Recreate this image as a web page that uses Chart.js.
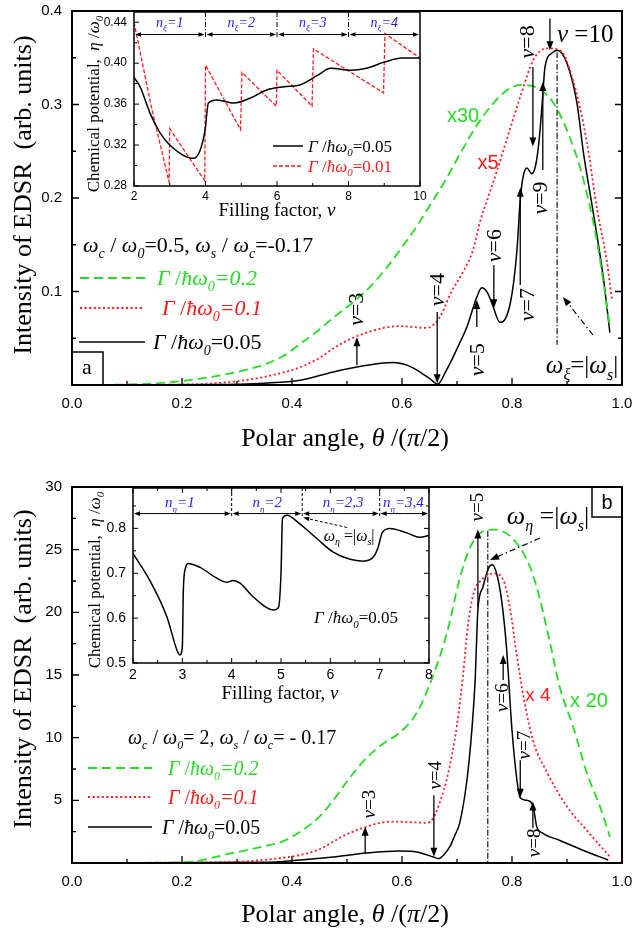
<!DOCTYPE html>
<html>
<head>
<meta charset="utf-8">
<script src="https://cdn.jsdelivr.net/npm/chart.js@4.4.1/dist/chart.umd.min.js"></script>
<style>
  body { margin: 0; background: #fff; width: 636px; height: 929px; position: relative; overflow: hidden; }
  canvas { position: absolute; }
</style>
</head>
<body>
<canvas id="mainA" width="636" height="465" style="left:0;top:0"></canvas>
<canvas id="insetA" width="360" height="225" style="left:80px;top:0"></canvas>
<canvas id="mainB" width="636" height="464" style="left:0;top:465px"></canvas>
<canvas id="insetB" width="370" height="240" style="left:80px;top:465px"></canvas>
<script>
// ---- data ----
// panel a, intensity vs polar angle
const aGreenX = [0, 0.1, 0.196, 0.293, 0.35, 0.384, 0.415, 0.447, 0.475, 0.51, 0.542, 0.57, 0.596, 0.627, 0.657, 0.682, 0.71, 0.742, 0.784, 0.815, 0.845, 0.875, 0.905, 0.924, 0.936, 0.955, 0.978];
const aGreenY = [0, 0.0005, 0.004, 0.013, 0.022, 0.031, 0.044, 0.058, 0.072, 0.088, 0.105, 0.124, 0.144, 0.17, 0.198, 0.222, 0.252, 0.283, 0.312, 0.321, 0.318, 0.302, 0.265, 0.232, 0.205, 0.152, 0.062];
const aRedX = [0, 0.2, 0.3, 0.36, 0.415, 0.45, 0.475, 0.505, 0.536, 0.566, 0.596, 0.62, 0.645, 0.669, 0.69, 0.71, 0.729, 0.742, 0.755, 0.772, 0.796, 0.815, 0.839, 0.863, 0.887, 0.911, 0.936, 0.955, 0.973, 0.982];
const aRedY = [0, 0.0005, 0.004, 0.01, 0.019, 0.029, 0.039, 0.049, 0.056, 0.061, 0.063, 0.062, 0.061, 0.073, 0.1, 0.12, 0.144, 0.175, 0.198, 0.228, 0.273, 0.308, 0.348, 0.36, 0.358, 0.326, 0.26, 0.187, 0.13, 0.09];
const aBlackX = [0, 0.25, 0.35, 0.415, 0.475, 0.536, 0.584, 0.61, 0.627, 0.65, 0.665, 0.68, 0.693, 0.705, 0.718, 0.736, 0.745, 0.755, 0.765, 0.778, 0.787, 0.796, 0.803, 0.809, 0.815, 0.82, 0.827, 0.836, 0.843, 0.849, 0.855, 0.86, 0.873, 0.882, 0.9, 0.918, 0.93, 0.947, 0.966, 0.978];
const aBlackY = [0, 0.0005, 0.002, 0.005, 0.014, 0.021, 0.024, 0.021, 0.016, 0.007, 0.001, 0.015, 0.03, 0.045, 0.062, 0.094, 0.104, 0.099, 0.085, 0.067, 0.07, 0.085, 0.11, 0.144, 0.198, 0.222, 0.232, 0.226, 0.235, 0.26, 0.302, 0.34, 0.355, 0.358, 0.344, 0.302, 0.248, 0.187, 0.115, 0.056];
const aTickX = [0, 0.2, 0.4, 0.6, 0.8, 1.0];
const aTickY = [0.1, 0.2, 0.3, 0.4];

// panel a inset, chemical potential vs filling factor
const iaBlackX = [2, 2.17, 2.45, 2.73, 3.0, 3.38, 3.66, 3.85, 3.99, 4.08, 4.33, 4.79, 5.26, 5.73, 6.2, 6.66, 7.13, 7.5, 8.07, 8.5, 9.0, 9.5, 10];
const iaBlackY = [0.386, 0.377, 0.351, 0.332, 0.32, 0.31, 0.307, 0.315, 0.335, 0.361, 0.364, 0.361, 0.366, 0.374, 0.377, 0.379, 0.388, 0.395, 0.393, 0.395, 0.401, 0.405, 0.405];
const iaRedX = [2, 2.5, 2.98, 3.0, 3.98, 4.0, 4.98, 5.02, 5.98, 6.0, 6.98, 7.02, 8.98, 9.02, 10];
const iaRedY = [0.44, 0.355, 0.284, 0.336, 0.285, 0.398, 0.335, 0.391, 0.358, 0.393, 0.358, 0.414, 0.371, 0.429, 0.405];
const iaTickX = [2, 4, 6, 8, 10];
const iaTickY = [0.28, 0.32, 0.36, 0.40, 0.44];
const iaLevels = ['1', '2', '3', '4'];
const iaBounds = [2, 4, 6, 8, 10];

// panel b, intensity vs polar angle
const bGreenX = [0, 0.2, 0.293, 0.34, 0.384, 0.415, 0.45, 0.475, 0.505, 0.536, 0.565, 0.596, 0.627, 0.657, 0.682, 0.705, 0.724, 0.745, 0.766, 0.796, 0.827, 0.845, 0.869, 0.887, 0.911, 0.936, 0.96, 0.978];
const bGreenY = [0, 0.05, 0.8, 1.25, 1.75, 2.5, 3.7, 5.0, 6.8, 8.4, 9.5, 10.4, 12, 15, 18.4, 22.7, 25.2, 26.4, 26.6, 26.1, 24.2, 22, 17.6, 14, 10.9, 7.2, 4.5, 2.1];
const bRedX = [0, 0.3, 0.38, 0.415, 0.45, 0.475, 0.505, 0.536, 0.56, 0.584, 0.62, 0.645, 0.657, 0.67, 0.682, 0.7, 0.711, 0.72, 0.73, 0.745, 0.766, 0.784, 0.796, 0.809, 0.822, 0.838, 0.864, 0.9, 0.936, 0.978];
const bRedY = [0, 0.1, 0.4, 0.64, 1.1, 1.7, 2.4, 2.9, 3.2, 3.3, 3.25, 3.2, 3.6, 5, 6.8, 11, 15, 19, 21.5, 22.6, 23.1, 22.6, 20.4, 16.5, 13, 9.8, 7.2, 4.5, 2.6, 0.5];
const bBlackX = [0, 0.35, 0.415, 0.475, 0.536, 0.596, 0.627, 0.657, 0.666, 0.677, 0.687, 0.696, 0.705, 0.718, 0.727, 0.733, 0.738, 0.747, 0.757, 0.764, 0.772, 0.781, 0.79, 0.8, 0.809, 0.815, 0.827, 0.838, 0.845, 0.855, 0.887, 0.93, 0.975];
const bBlackY = [0, 0.05, 0.24, 0.48, 0.8, 0.96, 0.88, 0.48, 0.35, 0.7, 1.3, 2.2, 3.2, 6.6, 10.6, 14.6, 20.2, 22, 23.5, 23.8, 23.1, 21, 17.2, 10.6, 6.6, 5.2, 5, 4.6, 2.9, 2.4, 1.8, 1, 0.24];
const bTickX = [0, 0.2, 0.4, 0.6, 0.8, 1.0];
const bTickY = [5, 10, 15, 20, 25, 30];

// panel b inset
const ibBlackX = [2, 2.34, 2.69, 2.89, 2.95, 3.0, 3.02, 3.06, 3.12, 3.36, 3.7, 3.9, 4.03, 4.17, 4.44, 4.85, 4.95, 5.0, 5.03, 5.12, 5.38, 5.72, 6.06, 6.4, 6.67, 6.87, 6.97, 7.05, 7.21, 7.55, 7.82, 8];
const ibBlackY = [0.744, 0.684, 0.602, 0.529, 0.518, 0.536, 0.66, 0.71, 0.722, 0.713, 0.689, 0.68, 0.684, 0.678, 0.647, 0.618, 0.624, 0.7, 0.822, 0.829, 0.81, 0.778, 0.747, 0.731, 0.727, 0.736, 0.758, 0.79, 0.8, 0.79, 0.78, 0.784];
const ibTickX = [2, 3, 4, 5, 6, 7, 8];
const ibTickY = [0.5, 0.6, 0.7, 0.8];
const ibLevels = ['1', '2', '2,3', '3,4'];
const ibBounds = [2, 4, 5.43, 7, 8];

// ---- styling ----
const SERIF = '"Liberation Serif", "Times New Roman", serif';
const SANS = '"Liberation Sans", Arial, sans-serif';
const NARROW = '"Liberation Sans Narrow", "Liberation Sans", sans-serif';
const GREEN = '#25dc25';
const RED = '#ff1a1a';
const BLUE = '#1f1fe6';

const pts = (xs, ys) => xs.map((v, i) => ({ x: v, y: ys[i] }));
const mids = arr => arr.slice(1).map((v, i) => (v + arr[i]) / 2);

function ds(data, color, dash, width, smooth) {
  return {
    data, borderColor: color, borderWidth: width, borderDash: dash,
    pointRadius: 0, fill: false,
    tension: 0, cubicInterpolationMode: smooth ? 'monotone' : 'default'
  };
}

function scaleOpts(min, max, ticks, fmt, font, pad, fit) {
  return {
    type: 'linear', min, max,
    grid: { display: false, drawTicks: false },
    border: { display: false },
    afterBuildTicks: s => { s.ticks = ticks.map(v => ({ value: v })); },
    afterFit: s => { fit(s); s.paddingLeft = s.paddingRight = s.paddingTop = s.paddingBottom = 0; },
    ticks: { callback: fmt, font, color: '#000', padding: pad, autoSkip: false, maxRotation: 0 }
  };
}

// rich text: parts = [[text, flags]] with 'i' italic, 's' subscript
function rich(ctx, x, y, parts, size, family, color, align) {
  const font = f => (f.includes('i') ? 'italic ' : '') + Math.round(f.includes('s') ? size * 0.62 : size) + 'px ' + family;
  let w = 0;
  const widths = parts.map(([t, f = '']) => { ctx.font = font(f); const m = ctx.measureText(t).width; w += m; return m; });
  let cx = align === 'center' ? x - w / 2 : align === 'right' ? x - w : x;
  ctx.fillStyle = color;
  ctx.textAlign = 'left';
  ctx.textBaseline = 'alphabetic';
  const base = y + size * 0.33;
  parts.forEach(([t, f = ''], i) => {
    ctx.font = font(f);
    ctx.fillText(t, cx, base + (f.includes('s') ? size * 0.28 : 0));
    cx += widths[i];
  });
}

function richUp(ctx, x, y, parts, size, family, color) {
  ctx.save();
  ctx.translate(x, y);
  ctx.rotate(-Math.PI / 2);
  rich(ctx, 0, 0, parts, size, family, color, 'center');
  ctx.restore();
}

function arrow(ctx, x1, y1, x2, y2, o = {}) {
  const head = o.head || 9, hw = o.hw || 3.5;
  const ang = Math.atan2(y2 - y1, x2 - x1);
  ctx.save();
  ctx.strokeStyle = o.color || '#000';
  ctx.fillStyle = o.color || '#000';
  ctx.lineWidth = o.width || 1.3;
  ctx.setLineDash(o.dash || []);
  ctx.beginPath();
  ctx.moveTo(x1, y1);
  ctx.lineTo(x2 - Math.cos(ang) * head * 0.8, y2 - Math.sin(ang) * head * 0.8);
  ctx.stroke();
  ctx.setLineDash([]);
  ctx.beginPath();
  ctx.moveTo(x2, y2);
  ctx.lineTo(x2 - Math.cos(ang) * head - Math.sin(ang) * hw, y2 - Math.sin(ang) * head + Math.cos(ang) * hw);
  ctx.lineTo(x2 - Math.cos(ang) * head + Math.sin(ang) * hw, y2 - Math.sin(ang) * head - Math.cos(ang) * hw);
  ctx.closePath();
  ctx.fill();
  ctx.restore();
}

function line(ctx, x1, y1, x2, y2, color, width, dash) {
  ctx.save();
  ctx.strokeStyle = color;
  ctx.lineWidth = width;
  ctx.setLineDash(dash || []);
  ctx.beginPath();
  ctx.moveTo(x1, y1);
  ctx.lineTo(x2, y2);
  ctx.stroke();
  ctx.restore();
}

// frame plus inward tick marks
function frame(chart, o) {
  const ctx = chart.ctx, a = chart.chartArea, sx = chart.scales.x, sy = chart.scales.y;
  ctx.save();
  ctx.strokeStyle = '#000';
  ctx.lineWidth = o.lw;
  ctx.strokeRect(a.left, a.top, a.right - a.left, a.bottom - a.top);
  ctx.lineWidth = o.tw;
  ctx.beginPath();
  const xt = (v, len) => {
    const p = sx.getPixelForValue(v);
    ctx.moveTo(p, a.bottom); ctx.lineTo(p, a.bottom - len);
    if (o.top) { ctx.moveTo(p, a.top); ctx.lineTo(p, a.top + len); }
  };
  const yt = (v, len) => {
    const p = sy.getPixelForValue(v);
    ctx.moveTo(a.left, p); ctx.lineTo(a.left + len, p);
    if (o.right) { ctx.moveTo(a.right, p); ctx.lineTo(a.right - len, p); }
  };
  o.xMajor.forEach(v => xt(v, o.len));
  o.xMinor.forEach(v => xt(v, o.len2));
  o.yMajor.forEach(v => yt(v, o.len));
  o.yMinor.forEach(v => yt(v, o.len2));
  ctx.stroke();
  ctx.restore();
}

const gamma = (val, italicNum) => [['Γ', 'i'], [' /', ''], ['ħω', 'i'], ['0', 'is'], ['=' + val, italicNum ? 'i' : '']];
const nu = v => [['ν', 'i'], ['=' + v, '']];

function nuLabel(chart, v, tx, ty, ax, ay1, ay2, size) {
  const sx = chart.scales.x, sy = chart.scales.y, ctx = chart.ctx;
  richUp(ctx, sx.getPixelForValue(tx), sy.getPixelForValue(ty), nu(v), size, SERIF, '#000');
  arrow(ctx, sx.getPixelForValue(ax), sy.getPixelForValue(ay1), sx.getPixelForValue(ax), sy.getPixelForValue(ay2));
}

// ---- panel a decorations ----
function decoMainA(chart) {
  const ctx = chart.ctx, sx = chart.scales.x, sy = chart.scales.y;
  const X = v => sx.getPixelForValue(v), Y = v => sy.getPixelForValue(v);
  frame(chart, { lw: 2, tw: 1.3, len: 7, len2: 4, right: true,
    xMajor: aTickX, xMinor: mids(aTickX), yMajor: aTickY, yMinor: [0.05, 0.15, 0.25, 0.35] });
  richUp(ctx, 22, 195, [['Intensity of EDSR  (arb. units)']], 26, SERIF, '#000');
  rich(ctx, 345, 437, [['Polar angle, '], ['θ', 'i'], [' /('], ['π', 'i'], ['/2)']], 26, SERIF, '#000', 'center');

  rich(ctx, 83, 245, [['ω', 'i'], ['c', 'is'], [' / '], ['ω', 'i'], ['0', 'is'], ['=0.5, '], ['ω', 'i'], ['s', 'is'], [' / '], ['ω', 'i'], ['c', 'is'], ['=-0.17']], 22, SERIF, '#000', 'left');
  line(ctx, 80, 278, 148, 278, GREEN, 1.8, [9, 5]);
  rich(ctx, 157, 278, gamma('0.2', true), 22, SERIF, GREEN, 'left');
  line(ctx, 80, 308, 143, 308, RED, 1.8, [2, 2.6]);
  rich(ctx, 162, 308, gamma('0.1', true), 22, SERIF, RED, 'left');
  line(ctx, 79, 342, 145, 342, '#000', 1.5);
  rich(ctx, 153, 342, gamma('0.05', false), 22, SERIF, '#000', 'left');

  ctx.save();
  ctx.lineWidth = 1.5; ctx.strokeStyle = '#000';
  ctx.strokeRect(72, 352, 31, 33);
  ctx.restore();
  rich(ctx, 87, 367, [['a']], 22, SERIF, '#000', 'center');

  nuLabel(chart, '3', 0.515, 0.081, 0.518, 0.021, 0.051, 22);
  nuLabel(chart, '4', 0.664, 0.102, 0.664, 0.078, 0.002, 22);
  nuLabel(chart, '5', 0.736, 0.027, 0.736, 0.062, 0.091, 22);
  nuLabel(chart, '6', 0.767, 0.149, 0.767, 0.128, 0.082, 22);
  nuLabel(chart, '7', 0.827, 0.086, 0.815, 0.107, 0.211, 22);
  nuLabel(chart, '9', 0.851, 0.2, 0.856, 0.23, 0.324, 22);
  nuLabel(chart, '8', 0.827, 0.367, 0.838, 0.34, 0.255, 22);
  rich(ctx, 557, 34, [['ν', 'i'], [' =10']], 25, SERIF, '#000', 'left');
  arrow(ctx, X(0.869), Y(0.392), X(0.869), Y(0.358));

  rich(ctx, 463, 115, [['x30']], 20, SANS, GREEN, 'center');
  rich(ctx, 488, 162, [['x5']], 20, SANS, RED, 'center');

  line(ctx, X(0.882), Y(0.356), X(0.882), Y(0.043), '#000', 1.1, [6, 2, 1.5, 2]);
  arrow(ctx, 593, 335, 563, 297, { dash: [6, 3, 1.5, 3], width: 1.2 });
  rich(ctx, 582, 365, [['ω', 'i'], ['ξ', 'is'], ['=|'], ['ω', 'i'], ['s', 'is'], ['|']], 25, SERIF, '#000', 'center');
}

// shared inset top bands: level labels, double arrows, separators
function levelBand(chart, bounds, levels, sub, yLab, yArr, labelX, size, sepDash) {
  const ctx = chart.ctx, sx = chart.scales.x, sy = chart.scales.y, a = chart.chartArea;
  const ya = sy.getPixelForValue(yArr);
  bounds.slice(1, -1).forEach(b => line(ctx, sx.getPixelForValue(b), a.top, sx.getPixelForValue(b), ya + 3, '#000', 1, sepDash));
  for (let i = 0; i < levels.length; i++) {
    const x1 = sx.getPixelForValue(bounds[i]) + 1, x2 = sx.getPixelForValue(bounds[i + 1]) - 1;
    const opt = { head: 6, hw: 2.3, width: 1 };
    arrow(ctx, (x1 + x2) / 2, ya, x2, ya, opt);
    arrow(ctx, (x1 + x2) / 2, ya, x1, ya, opt);
    rich(ctx, sx.getPixelForValue(labelX[i]), sy.getPixelForValue(yLab), [['n', 'i'], [sub, 'is'], ['=' + levels[i], 'i']], size, SERIF, BLUE, 'center');
  }
}

function decoInsetA(chart) {
  const ctx = chart.ctx;
  frame(chart, { lw: 1.5, tw: 1, len: 5, len2: 3,
    xMajor: iaTickX, xMinor: mids(iaTickX), yMajor: iaTickY, yMinor: mids(iaTickY) });
  levelBand(chart, iaBounds, iaLevels, 'ξ', 0.4395, 0.428, [3, 5, 7, 9], 14, [5, 2, 1, 2]);
  richUp(ctx, 13, 104, [['Chemical potential,  '], ['η', 'i'], [' /'], ['ω', 'i'], ['0', 'is']], 17, SERIF, '#000');
  rich(ctx, 197, 210, [['Filling factor, '], ['ν', 'i']], 19, SERIF, '#000', 'center');
  line(ctx, 193, 146, 223, 146, '#000', 1.5);
  rich(ctx, 228, 146, gamma('0.05', false), 17, SERIF, '#000', 'left');
  line(ctx, 193, 166, 223, 166, RED, 1.5, [4, 2]);
  rich(ctx, 228, 166, gamma('0.01', false), 17, SERIF, RED, 'left');
}

// ---- panel b decorations ----
function decoMainB(chart) {
  const ctx = chart.ctx, sx = chart.scales.x, sy = chart.scales.y;
  const X = v => sx.getPixelForValue(v), Y = v => sy.getPixelForValue(v);
  frame(chart, { lw: 2, tw: 1.3, len: 7, len2: 4,
    xMajor: bTickX, xMinor: mids(bTickX), yMajor: bTickY, yMinor: [2.5, 7.5, 12.5, 17.5, 22.5, 27.5] });
  richUp(ctx, 22, 204, [['Intensity of EDSR  (arb. units)']], 26, SERIF, '#000');
  rich(ctx, 345, 448, [['Polar angle, '], ['θ', 'i'], [' /('], ['π', 'i'], ['/2)']], 26, SERIF, '#000', 'center');

  rich(ctx, 128, 272, [['ω', 'i'], ['c', 'is'], [' / '], ['ω', 'i'], ['0', 'is'], ['= 2, '], ['ω', 'i'], ['s', 'is'], [' / '], ['ω', 'i'], ['c', 'is'], ['= - 0.17']], 20, SERIF, '#000', 'left');
  line(ctx, 88, 303, 152, 303, GREEN, 1.8, [9, 5]);
  rich(ctx, 168, 303, gamma('0.2', true), 20, SERIF, GREEN, 'left');
  line(ctx, 88, 332, 152, 332, RED, 1.8, [2, 2.6]);
  rich(ctx, 168, 332, gamma('0.1', true), 20, SERIF, RED, 'left');
  line(ctx, 88, 362, 152, 362, '#000', 1.5);
  rich(ctx, 162, 362, gamma('0.05', false), 20, SERIF, '#000', 'left');

  ctx.save();
  ctx.lineWidth = 1.5; ctx.strokeStyle = '#000';
  ctx.strokeRect(592, 22, 30, 30);
  ctx.restore();
  rich(ctx, 607, 37, [['b']], 20, SANS, '#000', 'center');

  nuLabel(chart, '3', 0.539, 4.7, 0.533, 0.8, 2.9, 19);
  nuLabel(chart, '4', 0.66, 7.0, 0.658, 5.4, 0.5, 19);
  nuLabel(chart, '5', 0.736, 28.4, 0.738, 20.4, 26.6, 19);
  nuLabel(chart, '6', 0.782, 13.2, 0.784, 14.6, 16.6, 19);
  nuLabel(chart, '7', 0.822, 9.4, 0.815, 8.2, 5.2, 19);
  nuLabel(chart, '8', 0.84, 1.6, 0.838, 2.8, 4.9, 19);

  rich(ctx, 538, 230, [['x 4']], 19, SANS, RED, 'center');
  rich(ctx, 589, 235, [['x 20']], 20, SANS, GREEN, 'center');

  line(ctx, X(0.756), Y(26.5), X(0.756), Y(0), '#000', 1.1, [6, 2, 1.5, 2]);
  arrow(ctx, 540, 73, 490, 95, { dash: [6, 3, 1.5, 3], width: 1.2 });
  rich(ctx, 548, 50, [['ω', 'i'], ['η', 'is'], [' =|'], ['ω', 'i'], ['s', 'is'], ['|']], 26, SERIF, '#000', 'center');
}

function decoInsetB(chart) {
  const ctx = chart.ctx, sx = chart.scales.x, sy = chart.scales.y;
  frame(chart, { lw: 1.5, tw: 1, len: 5, len2: 3, top: true, right: true,
    xMajor: ibTickX, xMinor: mids(ibTickX), yMajor: ibTickY, yMinor: [0.55, 0.65, 0.75, 0.85] });
  levelBand(chart, ibBounds, ibLevels, 'η', 0.858, 0.833, [2.95, 4.72, 6.26, 7.48], 15, [3, 2]);
  arrow(ctx, sx.getPixelForValue(6.34), sy.getPixelForValue(0.802), sx.getPixelForValue(5.45), sy.getPixelForValue(0.824),
    { dash: [3, 2], head: 6, hw: 2.3, width: 1 });
  rich(ctx, sx.getPixelForValue(6.38), sy.getPixelForValue(0.784), [['ω', 'i'], ['η', 'is'], [' =|'], ['ω', 'i'], ['s', 'is'], ['|']], 16, SERIF, '#000', 'center');
  rich(ctx, sx.getPixelForValue(6.52), sy.getPixelForValue(0.602), gamma('0.05', false), 17, SERIF, '#000', 'center');
  richUp(ctx, 14, 115, [['Chemical potential,  '], ['η', 'i'], [' /'], ['ω', 'i'], ['0', 'is']], 17, SERIF, '#000');
  rich(ctx, 200, 228, [['Filling factor, '], ['ν', 'i']], 19, SERIF, '#000', 'center');
}

// ---- charts ----
function makeChart(id, datasets, xs, ys, padding, deco) {
  return new Chart(document.getElementById(id), {
    type: 'line',
    data: { datasets },
    options: {
      responsive: false,
      animation: false,
      layout: { padding },
      plugins: { legend: { display: false }, tooltip: { enabled: false } },
      scales: { x: xs, y: ys }
    },
    plugins: [{ id: id + 'Deco', afterDraw: deco }]
  });
}

const mainFont = { family: SANS, size: 15 };
const fmt1 = v => v.toFixed(1);

makeChart('mainA', [
  ds(pts(aGreenX, aGreenY), GREEN, [9, 5], 1.8, true),
  ds(pts(aRedX, aRedY), RED, [2, 2.6], 1.8, true),
  ds(pts(aBlackX, aBlackY), '#000', [], 1.5, true)
],
  scaleOpts(0, 1, aTickX, fmt1, mainFont, 10, s => { s.height = 80; }),
  scaleOpts(0, 0.4, aTickY, fmt1, mainFont, 10, s => { s.width = 72; }),
  { top: 11, right: 14, left: 0, bottom: 0 }, decoMainA);

makeChart('insetA', [
  ds(pts(iaBlackX, iaBlackY), '#000', [], 1.5, true),
  ds(pts(iaRedX, iaRedY), RED, [4, 2], 1.3, false)
],
  scaleOpts(2, 10, iaTickX, v => String(v), { family: NARROW, size: 12 }, 3, s => { s.height = 39; }),
  scaleOpts(0.28, 0.45, iaTickY, v => v.toFixed(2), { family: NARROW, size: 12 }, 7, s => { s.width = 54; }),
  { top: 12, right: 20, left: 0, bottom: 0 }, decoInsetA);

makeChart('mainB', [
  ds(pts(bGreenX, bGreenY), GREEN, [9, 5], 1.8, true),
  ds(pts(bRedX, bRedY), RED, [2, 2.6], 1.8, true),
  ds(pts(bBlackX, bBlackY), '#000', [], 1.5, true)
],
  scaleOpts(0, 1, bTickX, fmt1, mainFont, 10, s => { s.height = 66; }),
  scaleOpts(0, 30, bTickY, v => String(v), mainFont, 10, s => { s.width = 72; }),
  { top: 22, right: 14, left: 0, bottom: 0 }, decoMainB);

makeChart('insetB', [
  ds(pts(ibBlackX, ibBlackY), '#000', [], 1.5, true)
],
  scaleOpts(2, 8, ibTickX, v => String(v), { family: NARROW, size: 14 }, 4, s => { s.height = 42; }),
  scaleOpts(0.5, 0.89, ibTickY, v => v.toFixed(1), { family: NARROW, size: 14 }, 7, s => { s.width = 53; }),
  { top: 23, right: 21, left: 0, bottom: 0 }, decoInsetB);
</script>
</body>
</html>
